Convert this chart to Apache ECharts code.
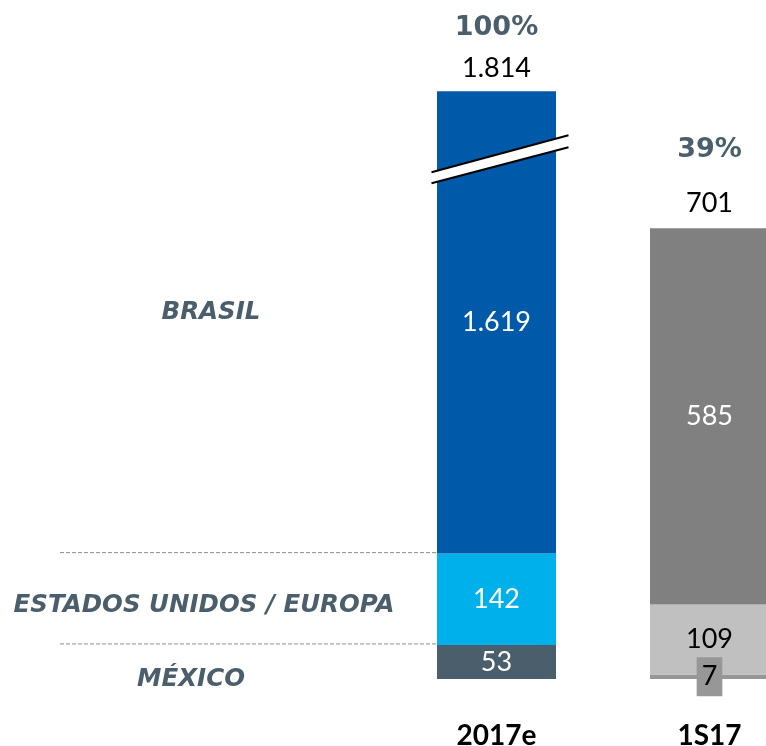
<!DOCTYPE html>
<html>
<head>
<meta charset="utf-8">
<style>
  html, body { margin: 0; padding: 0; background: #ffffff; overflow: hidden; }
  #chart { width: 766px; height: 746px; }
</style>
<script src="https://cdn.jsdelivr.net/npm/echarts@6/dist/echarts.min.js"></script>
</head>
<body>
<div id="chart"></div>
<script>
// ---- data ----
const categories = ['2017e', '1S17'];
const mexico = [53, 7];
const usaEurope = [142, 109];
const brasil = [1619, 585];
const totals = [1814, 701];
const percents = ['100%', '39%'];
// amount cut from the top segment by the axis break (visual only)
const breakGap = [900, 0];
const regionLabels = ['BRASIL', 'ESTADOS UNIDOS / EUROPA', 'MÉXICO'];

// ---- colors ----
const mexicoColors = ['#4a5f6b', '#979797'];
const usaColors = ['#00b0ea', '#c0c0c0'];
const brasilColors = ['#0059a9', '#808080'];
const slate = '#4a5f6b';
const numFont = 'Lato, "Open Sans", sans-serif';

function fmt(n) {
  return String(n).replace(/\B(?=(\d{3})+(?!\d))/g, '.');
}

const chart = echarts.init(document.getElementById('chart'), null, { renderer: 'canvas', width: 766, height: 746 });
const BAR_W = 119;

const shownBrasil = brasil.map((v, i) => v - breakGap[i]);
const shownTotals = categories.map((c, i) => mexico[i] + usaEurope[i] + shownBrasil[i]);

const inside = (color) => ({
  show: true, position: 'inside', color: color,
  fontFamily: numFont, fontSize: 27
});

const option = {
  animation: false,
  grid: { left: 496.5, width: 213, top: 36, height: 643, containLabel: false, outerBoundsMode: 'none' },
  xAxis: {
    type: 'category', data: categories, boundaryGap: false,
    axisLine: { show: false }, axisTick: { show: false },
    axisLabel: { margin: 43, color: '#000', fontFamily: numFont, fontWeight: 'bold', fontSize: 28 }
  },
  yAxis: { type: 'value', min: 0, max: 1000, show: false, splitLine: { show: false } },
  series: [
    {
      name: 'México', type: 'bar', stack: 's', barWidth: BAR_W, clip: false,
      data: mexico.map((v, i) => ({
        value: v, itemStyle: { color: mexicoColors[i] },
        label: i === 1 ? {
          show: true, position: 'inside', color: '#000', fontFamily: numFont, fontSize: 27,
          backgroundColor: mexicoColors[i], padding: [9, 5, 9, 5], lineHeight: 21
        } : inside('#fff')
      })),
      label: inside('#fff')
    },
    {
      name: 'Estados Unidos / Europa', type: 'bar', stack: 's', barWidth: BAR_W, clip: false,
      data: usaEurope.map((v, i) => ({
        value: v, itemStyle: { color: usaColors[i] },
        label: inside(i === 1 ? '#000' : '#fff')
      })),
      label: inside('#fff')
    },
    {
      name: 'Brasil', type: 'bar', stack: 's', barWidth: BAR_W, clip: false,
      data: shownBrasil.map((v, i) => ({
        value: v, itemStyle: { color: brasilColors[i] }
      })),
      label: Object.assign(inside('#fff'), {
        formatter: (p) => fmt(brasil[p.dataIndex])
      })
    },
    {
      name: 'totals', type: 'scatter', symbolSize: 0, silent: true, clip: false,
      itemStyle: { opacity: 1 },
      data: shownTotals.map((v, i) => ({
        value: [categories[i], v],
        label: {
          distance: i === 0 ? 0 : 2,
          rich: {
            p: { fontFamily: '"DejaVu Sans", sans-serif', fontWeight: 'bold', fontSize: 27, color: slate, lineHeight: i === 0 ? 35 : 60 },
            v: { fontFamily: numFont, fontSize: 27, color: '#000', lineHeight: 46 }
          }
        }
      })),
      label: {
        show: true, position: 'top',
        formatter: (p) => '{p|' + percents[p.dataIndex] + '}\n{v|' + fmt(totals[p.dataIndex]) + '}'
      }
    }
  ]
};
chart.setOption(option);

// ---- annotations placed from the axes ----
const x0 = chart.convertToPixel({ xAxisIndex: 0 }, categories[0]);
const barLeft = x0 - BAR_W / 2;
const yOf = (v) => chart.convertToPixel({ yAxisIndex: 0 }, v);
const yMex = yOf(mexico[0]);
const yUsa = yOf(mexico[0] + usaEurope[0]);
const yTop = yOf(shownTotals[0]);
const yBrasilMid = (yUsa + yTop) / 2;

const regionStyle = {
  fill: slate, fontFamily: '"DejaVu Sans", Verdana, sans-serif',
  fontWeight: 'bold', fontStyle: 'italic', fontSize: 24.5,
  align: 'center', verticalAlign: 'middle'
};
const dash = { stroke: '#8c8c8c', lineWidth: 1, lineDash: [4, 2] };

// break mark coordinates relative to the bar
const bl = x0 - 65, br = x0 + 72;
const breakTop = yTop + 81;

chart.setOption({
  graphic: [
    { type: 'line', shape: { x1: 60, y1: yUsa - 1, x2: barLeft, y2: yUsa - 1 }, style: dash },
    { type: 'line', shape: { x1: 60, y1: yMex - 1, x2: barLeft, y2: yMex - 1 }, style: dash },
    { type: 'text', x: 211, y: yBrasilMid - 10, style: Object.assign({ text: regionLabels[0] }, regionStyle) },
    { type: 'text', x: 204, y: (yUsa + yMex) / 2 + 6, style: Object.assign({ text: regionLabels[1] }, regionStyle) },
    { type: 'text', x: 191, y: yMex + 35, style: Object.assign({ text: regionLabels[2] }, regionStyle) },
    {
      type: 'polygon', z: 100,
      shape: { points: [[bl, breakTop], [br, breakTop - 37], [br, breakTop - 25], [bl, breakTop + 11]] },
      style: { fill: '#ffffff' }
    },
    { type: 'line', z: 101, shape: { x1: bl, y1: breakTop, x2: br, y2: breakTop - 37 }, style: { stroke: '#000', lineWidth: 2 } },
    { type: 'line', z: 101, shape: { x1: bl, y1: breakTop + 11, x2: br, y2: breakTop - 25 }, style: { stroke: '#000', lineWidth: 2 } }
  ]
});
</script>
</body>
</html>
